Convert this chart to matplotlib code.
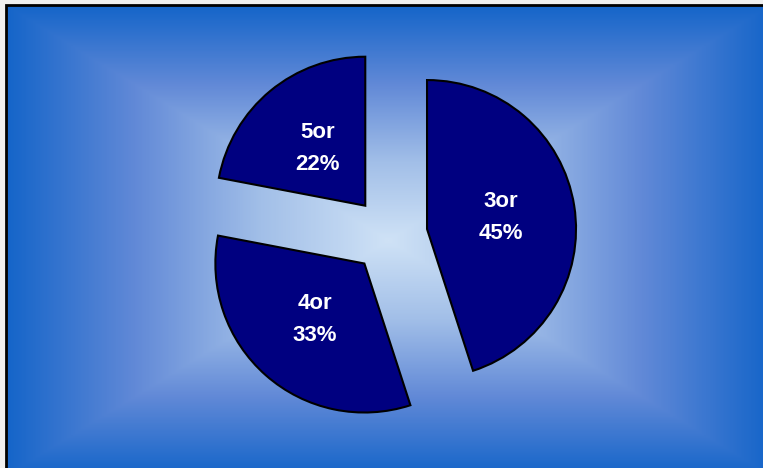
import numpy as np
import matplotlib.pyplot as plt
from matplotlib.colors import LinearSegmentedColormap
from matplotlib.patches import Rectangle

# data
categories = ['3or', '4or', '5or']
shares = [45, 33, 22]

W, H = 763, 468

fig = plt.figure(figsize=(W / 100, H / 100), dpi=100)
fig.patch.set_facecolor('#f0f0f0')
ax = fig.add_axes([0, 0, 1, 1])

# rectangular gradient background, light in the middle, blue at the edges
left, top = 6, 5
cx, cy = (left + W + 8) / 2, (H - top + (-8)) / 2
xs = np.linspace(left, W + 8, 400)
ys = np.linspace(-8, H - top, 300)
X, Y = np.meshgrid(xs, ys)
hw, hh = (W + 8 - left) / 2, (H - top + 8) / 2
t = np.maximum(np.abs(X - cx) / hw, np.abs(Y - cy) / hh)
cmap = LinearSegmentedColormap.from_list('bg', ['#cfe2f6', '#a2bfe8', '#6189d7', '#1565c9'])
ax.imshow(t, cmap=cmap, extent=[left, W + 8, -8, H - top], origin='lower',
          interpolation='bilinear', zorder=0, vmin=0, vmax=1)
ax.add_patch(Rectangle((left, -8), W + 20, H - top + 8, fill=False,
                       edgecolor='black', linewidth=2, zorder=1))

# pie
wedges, texts, autotexts = ax.pie(
    shares, startangle=90, counterclock=False, radius=149,
    center=(389.5, H - 235), explode=[38] * 3,
    colors=['#000080'] * 3, autopct='%1.0f%%', pctdistance=0.5,
    wedgeprops=dict(edgecolor='black', linewidth=1.5), frame=True)
for w in wedges:
    w.set_zorder(2)
for at, name in zip(autotexts, categories):
    at.set_text(f'{name}\n{at.get_text()}')
    at.set_color('white')
    at.set_fontfamily('Liberation Sans')
    at.set_fontweight('bold')
    at.set_fontsize(16)
    at.set_linespacing(1.65)
    at.set_zorder(3)

ax.set_xlim(0, W)
ax.set_ylim(0, H)
ax.set_aspect('auto')
ax.axis('off')

fig.savefig('out.png', dpi=100)
